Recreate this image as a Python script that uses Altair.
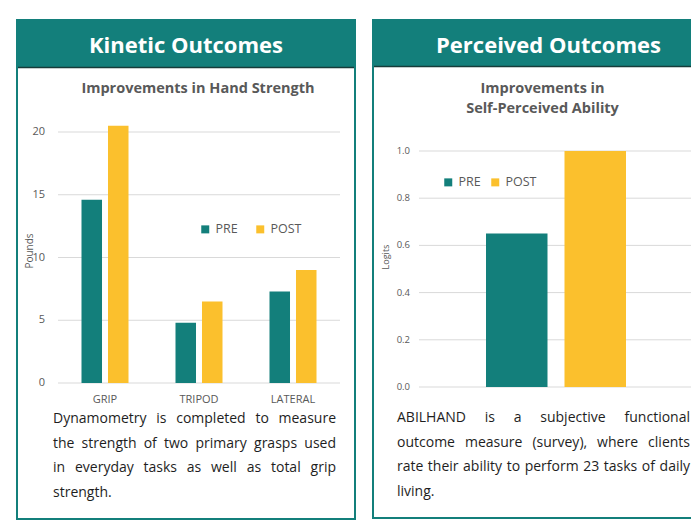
import altair as alt
import pandas as pd

# ---------------- data ----------------
series = ["PRE", "POST"]

kin_categories = ["GRIP", "TRIPOD", "LATERAL"]
kin_pre = [14.6, 4.8, 7.3]
kin_post = [20.5, 6.5, 9.0]
kin_ticks = [0, 5, 10, 15, 20]

per_pre = [0.65]
per_post = [1.0]
per_ticks = [0.0, 0.2, 0.4, 0.6, 0.8, 1.0]

panel_titles = ["Kinetic Outcomes", "Perceived Outcomes"]
kin_chart_title = ["Improvements in Hand Strength"]
per_chart_title = ["Improvements in", "Self-Perceived Ability"]
kin_ytitle = "Pounds"
per_ytitle = "Logits"
kin_text = [
    "Dynamometry is completed to measure",
    "the strength of two primary grasps used",
    "in everyday tasks as well as total grip",
    "strength.",
]
per_text = [
    "ABILHAND is a subjective functional",
    "outcome measure (survey), where clients",
    "rate their ability to perform 23 tasks of daily",
    "living.",
]

# ---------------- layout (page pixels) ----------------
O = 8
def px(v):
    return v - O

W, H = 683, 513
TEAL = "#137f7b"
YELLOW = "#fbc02d"
GRID = "#d9d9d9"
AXIS_TXT = "#595959"
TITLE_TXT = "#595959"
BODY_TXT = "#1e1e1e"
FONT = "Open Sans"
BODY_SIZE = 14

kin_line_x = (53, 336)
per_line_x = (397, 690)
kin_line_y = [423, 448, 472, 497]
per_line_y = [422, 447, 471, 496]

# approximate advance widths (em) of the body font, used only to justify lines
CW = {
    "a": .556, "b": .613, "c": .48, "d": .613, "e": .561, "f": .336, "g": .546, "h": .614,
    "i": .258, "j": .258, "k": .525, "l": .258, "m": .93, "n": .614, "o": .602, "p": .613,
    "q": .613, "r": .408, "s": .477, "t": .353, "u": .614, "v": .501, "w": .778, "x": .524,
    "y": .5, "z": .468, "A": .633, "B": .647, "D": .729, "H": .738, "I": .279, "L": .519,
    "N": .762, "(": .296, ")": .296, ",": .258, ".": .266, "-": .322,
}


def wwidth(w):
    return sum(CW.get(c, .572) for c in w) * BODY_SIZE


one = alt.Data(values=[{"k": 1}])


def rect(x1, x2, y1, y2, fill, stroke=None, sw=0):
    kw = dict(fill=fill)
    if stroke:
        kw.update(stroke=stroke, strokeWidth=sw)
    return alt.Chart(one).mark_rect(**kw).encode(
        x=alt.value(px(x1)), x2=alt.value(min(px(x2), W + 5)),
        y=alt.value(px(y1)), y2=alt.value(px(y2)))


def label(text, x, y, size, color, weight="normal", align="center", angle=0, baseline="alphabetic"):
    return alt.Chart(one).mark_text(
        text=text, fontSize=size, font=FONT, color=color, fontWeight=weight,
        align=align, baseline=baseline, angle=angle,
    ).encode(x=alt.value(px(x)), y=alt.value(px(y)))


def words_layers(lines, xr, ys):
    """Justified paragraph: all lines but the last are spread to the full width."""
    left_rows, right_rows = [], []
    x0, x1 = xr
    for i, (line, ly) in enumerate(zip(lines, ys)):
        ws = line.split(" ")
        if i == len(lines) - 1 or len(ws) == 1:
            left_rows.append({"w": line, "x": px(x0), "y": px(ly)})
            continue
        widths = [wwidth(w) for w in ws]
        gap = (x1 - x0 - sum(widths)) / (len(ws) - 1)
        cx = x0
        for w, wd in zip(ws[:-1], widths[:-1]):
            left_rows.append({"w": w, "x": px(cx), "y": px(ly)})
            cx += wd + gap
        right_rows.append({"w": ws[-1], "x": px(x1), "y": px(ly)})
    out = []
    for rows, al in ((left_rows, "left"), (right_rows, "right")):
        out.append(alt.Chart(pd.DataFrame(rows)).mark_text(
            fontSize=BODY_SIZE, font=FONT, color=BODY_TXT, align=al, baseline="alphabetic"
        ).encode(
            x=alt.X("x:Q", scale=None, axis=None),
            y=alt.Y("y:Q", scale=None, axis=None),
            text="w:N",
        ))
    return out


def legend(x, y, colpad):
    return alt.Legend(orient="none", legendX=px(x), legendY=px(y),
                      direction="horizontal", title=None, symbolType="square",
                      symbolSize=64, symbolStrokeWidth=0, labelFontSize=12.5,
                      labelFont=FONT, labelColor=AXIS_TXT, columnPadding=colpad,
                      labelOffset=4, padding=0)


# ---------------- frames ----------------
layers = [
    rect(17, 355, 20, 519, "white", TEAL, 2),
    rect(373, 720, 20, 518, "white", TEAL, 2),
    rect(17, 355, 20, 67, TEAL),
    rect(373, 720, 20, 66, TEAL),
    alt.Chart(one).mark_rule(color="#163c3a", strokeWidth=1.5).encode(
        x=alt.value(px(18)), x2=alt.value(px(354)), y=alt.value(px(67.5))),
    alt.Chart(one).mark_rule(color="#163c3a", strokeWidth=1.5).encode(
        x=alt.value(px(374)), x2=alt.value(W), y=alt.value(px(66.5))),
    label(panel_titles[0], 186, 53, 22, "white", "bold"),
    label(panel_titles[1], 548.5, 53, 22, "white", "bold"),
    label(kin_chart_title[0], 198, 93, 14.5, TITLE_TXT, "bold"),
    label(per_chart_title[0], 542.5, 93, 14.5, TITLE_TXT, "bold"),
    label(per_chart_title[1], 542.5, 113, 14.5, TITLE_TXT, "bold"),
    label(kin_ytitle, 30, 251, 10, AXIS_TXT, angle=270, baseline="middle"),
    label(per_ytitle, 386, 257, 9, AXIS_TXT, angle=270, baseline="middle"),
]

# ---------------- left chart: hand strength ----------------
kin_df = pd.DataFrame({
    "category": kin_categories * 2,
    "series": ["PRE"] * 3 + ["POST"] * 3,
    "value": kin_pre + kin_post,
})
kin_x = alt.Scale(domain=kin_categories, range=[px(58), px(340)],
                  paddingInner=0.5, paddingOuter=0.25)
kin_y = alt.Scale(domain=[0, 20], range=[px(383), px(132)], nice=False, zero=True)

kin_grid = alt.Chart(pd.DataFrame({"t": kin_ticks})).mark_rule(color=GRID, strokeWidth=1).encode(
    y=alt.Y("t:Q", scale=kin_y, axis=None),
    x=alt.value(px(58)), x2=alt.value(px(340)))
kin_ticklab = alt.Chart(pd.DataFrame({"t": kin_ticks})).mark_text(
    fontSize=11, font=FONT, color=AXIS_TXT, align="right", baseline="middle").encode(
    y=alt.Y("t:Q", scale=kin_y, axis=None), x=alt.value(px(45)), text="t:Q")
kin_bars = alt.Chart(kin_df).mark_bar().encode(
    x=alt.X("category:N", scale=kin_x, axis=None, sort=kin_categories),
    xOffset=alt.XOffset("series:N", scale=alt.Scale(domain=series, paddingInner=0.226), sort=series),
    y=alt.Y("value:Q", scale=kin_y, axis=None),
    color=alt.Color("series:N", sort=series,
                    scale=alt.Scale(domain=series, range=[TEAL, YELLOW]),
                    legend=legend(199, 223, 16)),
)
kin_xlab = alt.Chart(pd.DataFrame({"category": kin_categories})).mark_text(
    fontSize=11, font=FONT, color=AXIS_TXT, baseline="middle").encode(
    x=alt.X("category:N", scale=kin_x, axis=None, sort=kin_categories),
    y=alt.value(px(400)), text="category:N")

# ---------------- right chart: self-perceived ability ----------------
per_df = pd.DataFrame({"series": series, "value": per_pre + per_post})
per_x = alt.Scale(domain=series, range=[px(486), px(626)], paddingInner=0.2166, paddingOuter=0)
per_y = alt.Scale(domain=[0, 1], range=[px(387), px(151)], nice=False, zero=True)

per_grid = alt.Chart(pd.DataFrame({"t": per_ticks})).mark_rule(color=GRID, strokeWidth=1).encode(
    y=alt.Y("t:Q", scale=per_y, axis=None),
    x=alt.value(px(419)), x2=alt.value(W))
per_ticklab = alt.Chart(pd.DataFrame({"t": per_ticks})).mark_text(
    fontSize=9.5, font=FONT, color=AXIS_TXT, align="right", baseline="middle").encode(
    y=alt.Y("t:Q", scale=per_y, axis=None), x=alt.value(px(410)),
    text=alt.Text("t:Q", format=".1f"))
per_bars = alt.Chart(per_df).mark_bar().encode(
    x=alt.X("series:N", scale=per_x, axis=None, sort=series),
    y=alt.Y("value:Q", scale=per_y, axis=None),
    color=alt.Color("series:N", sort=series,
                    scale=alt.Scale(domain=series, range=[TEAL, YELLOW]),
                    legend=legend(442, 176, 8)),
)

layers += [kin_grid, kin_ticklab, kin_bars, kin_xlab,
           per_grid, per_ticklab, per_bars]
layers += words_layers(kin_text, kin_line_x, kin_line_y)
layers += words_layers(per_text, per_line_x, per_line_y)

chart = alt.layer(*layers).resolve_scale(
    x="independent", y="independent", color="independent", xOffset="independent"
).resolve_legend(color="independent").properties(
    width=W, height=H, autosize=alt.AutoSizeParams(type="none"), padding=0,
    background="white",
).configure_view(stroke=None)

chart.save("out.html", embed_options={"renderer": "svg", "actions": False})
